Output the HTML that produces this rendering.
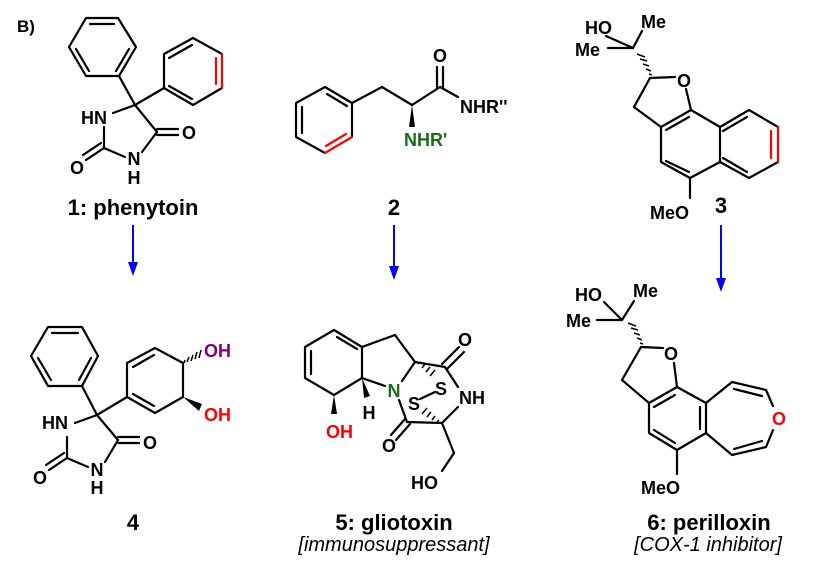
<!DOCTYPE html>
<html><head><style>body{margin:0;background:#fff}svg{display:block}</style></head><body>
<svg width="816" height="567" viewBox="0 0 816 567" xmlns="http://www.w3.org/2000/svg" font-family="Liberation Sans, sans-serif">
<g stroke="#000" stroke-width="2.2" fill="none" stroke-linecap="round" stroke-linejoin="round">
<!-- Panel 1 -->
<polygon points="86,18 118,18 136,47 119,76 86,76 69,47"/>
<line x1="90" y1="24" x2="114" y2="24"/><line x1="76" y1="49" x2="89" y2="71"/><line x1="129" y1="49" x2="116" y2="71"/>
<polyline points="164,88 164,54 193,38 222,54"/><polyline points="222,88 193,105 164,88"/>
<line x1="169" y1="58" x2="192" y2="45"/><line x1="169" y1="86" x2="192" y2="99"/>
<line x1="119" y1="76" x2="135" y2="105"/><line x1="135" y1="105" x2="164" y2="88"/>
<line x1="135" y1="105" x2="113" y2="113"/><line x1="104" y1="127" x2="104" y2="148"/>
<line x1="104" y1="148" x2="125" y2="157"/><line x1="142" y1="152" x2="157" y2="132"/>
<line x1="135" y1="105" x2="157" y2="132"/><line x1="157" y1="129" x2="178" y2="129"/><line x1="157" y1="135" x2="178" y2="135"/>
<line x1="104" y1="148" x2="86" y2="160"/><line x1="101" y1="143" x2="83" y2="155"/>
<!-- Panel 2 -->
<polyline points="352,137 352,103 325,87 296,103 296,137 325,153"/>
<line x1="327" y1="94" x2="347" y2="106"/><line x1="302" y1="107" x2="302" y2="133"/>
<line x1="352" y1="103" x2="382" y2="87"/><line x1="382" y1="87" x2="412" y2="105"/><line x1="412" y1="105" x2="440" y2="87"/>
<line x1="437" y1="87" x2="437" y2="67"/><line x1="443" y1="87" x2="443" y2="67"/>
<line x1="440" y1="87" x2="458" y2="97"/>
<!-- Panel 3 -->
<line x1="606" y1="36" x2="633" y2="48"/><line x1="633" y1="48" x2="642" y2="31"/><line x1="608" y1="48" x2="633" y2="48"/>
<line x1="650" y1="78" x2="675" y2="77"/><line x1="650" y1="78" x2="634" y2="107"/><line x1="634" y1="107" x2="661" y2="127"/>
<line x1="686" y1="89" x2="691" y2="110"/>
<polyline points="691,110 661,127 661,162 690,178 720,162 720,127 691,110"/>
<line x1="666" y1="130" x2="689" y2="117"/><line x1="666" y1="161" x2="689" y2="172"/>
<polyline points="720,127 749,110 778,127"/><polyline points="778,162 749,178 720,162"/>
<line x1="723" y1="131" x2="747" y2="117"/><line x1="723" y1="158" x2="747" y2="172"/>
<line x1="690" y1="178" x2="690" y2="198"/>
<!-- Panel 4 -->
<polygon points="48,327 82,327 98,356 82,386 48,386 31,356"/>
<line x1="52" y1="333" x2="78" y2="333"/><line x1="38" y1="358" x2="51" y2="380"/><line x1="91" y1="358" x2="79" y2="380"/>
<line x1="82" y1="386" x2="97" y2="415"/><line x1="97" y1="415" x2="127" y2="397"/>
<polyline points="127,397 127,363 155,348 183,363 183,397 155,413 127,397"/>
<line x1="133" y1="367" x2="154" y2="355"/><line x1="133" y1="394" x2="154" y2="406"/>
<line x1="97" y1="415" x2="75" y2="423"/><line x1="67" y1="437" x2="67" y2="458"/>
<line x1="67" y1="458" x2="88" y2="467"/><line x1="105" y1="462" x2="118" y2="440"/>
<line x1="97" y1="415" x2="118" y2="440"/><line x1="118" y1="437" x2="139" y2="437"/><line x1="118" y1="443" x2="139" y2="443"/>
<line x1="67" y1="458" x2="49" y2="470"/><line x1="64" y1="453" x2="46" y2="465"/>
<!-- Panel 5 -->
<polyline points="334,330 362,347 362,378 334,395 305,378 305,347 334,330"/>
<line x1="337" y1="337" x2="357" y2="349"/><line x1="311" y1="351" x2="311" y2="374"/>
<line x1="362" y1="347" x2="395" y2="335"/><line x1="395" y1="335" x2="415" y2="362"/>
<line x1="362" y1="378" x2="385" y2="386"/><line x1="402" y1="381" x2="415" y2="362"/>
<line x1="415" y1="362" x2="445" y2="367"/><line x1="445" y1="367" x2="458" y2="387"/>
<line x1="442" y1="364" x2="459" y2="347"/><line x1="447" y1="369" x2="464" y2="352"/>
<line x1="458" y1="407" x2="442" y2="423"/><line x1="442" y1="423" x2="407" y2="422"/>
<line x1="399" y1="400" x2="407" y2="422"/>
<line x1="405" y1="419" x2="391" y2="435"/><line x1="410" y1="424" x2="396" y2="440"/>
<line x1="442" y1="423" x2="454" y2="453"/><line x1="454" y1="453" x2="442" y2="471"/>
<line x1="420" y1="399" x2="435" y2="392"/>
<!-- Panel 6 -->
<line x1="604" y1="302" x2="622" y2="320"/><line x1="622" y1="320" x2="634" y2="301"/><line x1="597" y1="320" x2="622" y2="320"/>
<line x1="641" y1="347" x2="663" y2="348"/><line x1="641" y1="347" x2="622" y2="380"/><line x1="622" y1="380" x2="649" y2="403"/>
<line x1="674" y1="363" x2="677" y2="387"/>
<polyline points="677,387 649,403 649,433 677,450 706,433 706,403 677,387"/>
<line x1="654" y1="407" x2="675" y2="395"/><line x1="654" y1="430" x2="675" y2="443"/><line x1="700" y1="407" x2="700" y2="429"/>
<polyline points="706,403 732,382 766,390 773,406"/><polyline points="773,430 766,447 732,455 706,433"/>
<line x1="734" y1="389" x2="762" y2="396"/><line x1="734" y1="449" x2="762" y2="441"/>
<line x1="677" y1="450" x2="677" y2="474"/>
</g>
<g stroke="#ff0000" stroke-width="2.2" stroke-linecap="round">
<line x1="222" y1="54" x2="222" y2="88"/><line x1="216" y1="58" x2="216" y2="84"/>
<line x1="352" y1="137" x2="325" y2="153"/><line x1="346" y1="134" x2="326" y2="146"/>
<line x1="778" y1="127" x2="778" y2="162"/><line x1="771" y1="131" x2="771" y2="158"/>
</g>
<polygon points="412,105 409,127 415,127" fill="#000"/>
<polygon points="183,397 202,404 199,411" fill="#000"/>
<polygon points="334,395 331,414 337,414" fill="#000"/>
<polygon points="362,378 364,398 370,396" fill="#000"/>
<g stroke="#000" stroke-width="1.5">
<path d="M649,74 l3,1 M646,69 l5,2 M643,64 l6,2 M640,59 l7,2 M637,54 l8,3"/>
<path d="M640,343 l3,1 M637,338 l5,2 M634,333 l6,2 M631,328 l7,2 M628,323 l8,3"/>
<path d="M185,360 l-1,3 M189,357 l-2,5 M193,355 l-2,6 M197,352 l-2,7 M201,350 l-2,8"/>
<path d="M418,364 l2,-2 M422,368 l3,-4 M426,372 l4,-5 M430,376 l5,-6"/>
<path d="M439,420 l-2,2 M435,416 l-3,4 M431,412 l-4,5 M427,408 l-5,6"/>
</g>
<g stroke="#0000ff" stroke-width="2">
<line x1="133" y1="225" x2="133" y2="264"/><line x1="394" y1="225" x2="394" y2="268"/><line x1="721" y1="225" x2="721" y2="280"/>
</g>
<g fill="#0000ff">
<path d="M128,262 L138,262 L133,276 Z"/><path d="M389,266 L399,266 L394,280 Z"/><path d="M716,278 L726,278 L721,292 Z"/>
</g>
<g font-weight="bold" font-size="18" fill="#000">
<text x="17" y="32" font-size="17">B)</text>
<text x="81" y="124">HN</text>
<text x="77" y="174" text-anchor="middle">O</text>
<text x="134" y="165" text-anchor="middle">N</text>
<text x="134" y="184" text-anchor="middle">H</text>
<text x="189" y="139" text-anchor="middle">O</text>
<text x="440" y="62" text-anchor="middle">O</text>
<text x="460" y="113">NHR''</text>
<text x="404" y="146" fill="#1a6b1a">NHR'</text>
<text x="585" y="34">HO</text>
<text x="641" y="28">Me</text>
<text x="575" y="56">Me</text>
<text x="684" y="87" text-anchor="middle">O</text>
<text x="650" y="219">MeO</text>
<text x="42" y="429">HN</text>
<text x="40" y="484" text-anchor="middle">O</text>
<text x="97" y="476" text-anchor="middle">N</text>
<text x="97" y="494" text-anchor="middle">H</text>
<text x="150" y="449" text-anchor="middle">O</text>
<text x="204" y="357" fill="#800080">OH</text>
<text x="204" y="421" fill="#ff0000">OH</text>
<text x="394" y="397" text-anchor="middle" fill="#1a6b1a">N</text>
<text x="369" y="419" text-anchor="middle">H</text>
<text x="326" y="438" fill="#ff0000">OH</text>
<text x="465" y="346" text-anchor="middle">O</text>
<text x="459" y="404">NH</text>
<text x="389" y="452" text-anchor="middle">O</text>
<text x="441" y="395" text-anchor="middle">S</text>
<text x="414" y="410" text-anchor="middle">S</text>
<text x="411" y="489">HO</text>
<text x="575" y="301">HO</text>
<text x="633" y="297">Me</text>
<text x="566" y="327">Me</text>
<text x="671" y="360" text-anchor="middle">O</text>
<text x="779" y="425" text-anchor="middle" fill="#ff0000">O</text>
<text x="641" y="494">MeO</text>
</g>
<g font-weight="bold" font-size="22" fill="#000">
<text x="133" y="215" text-anchor="middle">1: phenytoin</text>
<text x="394" y="215" text-anchor="middle">2</text>
<text x="721" y="213" text-anchor="middle">3</text>
<text x="133" y="530" text-anchor="middle">4</text>
<text x="394" y="530" text-anchor="middle">5: gliotoxin</text>
<text x="709" y="530" text-anchor="middle">6: perilloxin</text>
</g>
<g font-style="italic" font-size="20" fill="#000">
<text x="394" y="551" text-anchor="middle">[immunosuppressant]</text>
<text x="708" y="551" text-anchor="middle">[COX-1 inhibitor]</text>
</g>
</svg>
</body></html>
